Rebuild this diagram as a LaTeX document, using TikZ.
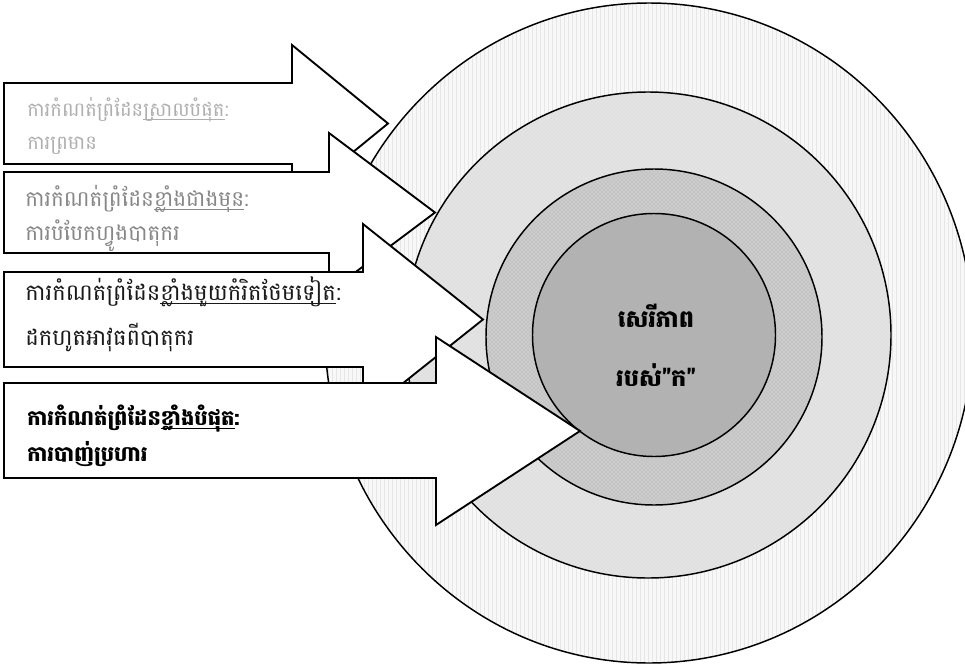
\documentclass[tikz,border=0pt]{standalone}
\usepackage{fontspec}
\usetikzlibrary{patterns}
\newfontfamily\khmer[Script=Khmer]{Battambang}
\newcommand{\kul}[1]{\setbox0=\hbox{#1}\rlap{\rule[-2.6pt]{\wd0}{0.5pt}}\box0}
\begin{document}
\begin{tikzpicture}[x=0.75pt,y=0.75pt,yscale=-1,xscale=1,
  ring/.style={draw=black,line width=1.1pt},
  blockarrow/.style={draw=black,fill=white,line width=1.4pt,line join=miter},
  lbl/.style={anchor=base west,inner sep=0pt,font=\khmer\fontsize{14.6}{17}\selectfont}]
\useasboundingbox (0,0) rectangle (965,664);

%Shape: Circle [outer ring]
\fill [fill={rgb, 255:red, 248; green, 248; blue, 248 }] (649,333) ellipse [x radius=324, y radius=330];
\fill [pattern=vertical lines, pattern color={rgb, 255:red, 230; green, 230; blue, 230 }] (649,333) ellipse [x radius=324, y radius=330];
\draw [ring] (649,333) ellipse [x radius=324, y radius=330];
%Shape: Circle [third ring]
\fill [fill={rgb, 255:red, 222; green, 222; blue, 222 }] (648,335) circle [radius=243];
\fill [pattern=crosshatch dots, pattern color=white] (648,335) circle [radius=243];
\draw [ring] (648,335) circle [radius=243];
%Shape: Circle [second ring]
\fill [fill={rgb, 255:red, 196; green, 196; blue, 196 }] (654,337) circle [radius=168];
\fill [pattern=crosshatch dots, pattern color={rgb, 255:red, 232; green, 232; blue, 232 }] (654,337) circle [radius=168];
\draw [ring] (654,337) circle [radius=168];
%Shape: Circle [core]
\draw [ring, fill={rgb, 255:red, 178; green, 178; blue, 178 }] (654,335) circle [radius=121.5];

%Shape: Right Arrow [warning]
\draw [blockarrow] (4,83) -- (292,83) -- (292,45) -- (388,123.5) -- (292,202) -- (292,164) -- (4,164) -- cycle ;
%Shape: Right Arrow [disperse]
\draw [blockarrow] (4,172) -- (329,172) -- (329,133) -- (435,212.5) -- (329,292) -- (329,253) -- (4,253) -- cycle ;
%Shape: Right Arrow [disarm]
\draw [blockarrow] (4,272) -- (363,272) -- (363,224) -- (483,319.5) -- (363,415) -- (363,367) -- (4,367) -- cycle ;
%Shape: Right Arrow [shooting]
\draw [blockarrow] (4,383) -- (436,383) -- (436,337) -- (580,431) -- (436,525) -- (436,478) -- (4,478) -- cycle ;

% Text Node
\draw (27,116) node (warnA) [lbl, text={rgb, 255:red, 175; green, 175; blue, 175 }] {ការកំណត់ព្រំដែន\kul{ស្រាលបំផុត}:};
% Text Node
\draw (27,149) node (warnB) [lbl, text={rgb, 255:red, 175; green, 175; blue, 175 }] {ការព្រមាន};
% Text Node
\draw (25,206) node (dispA) [lbl, text={rgb, 255:red, 135; green, 135; blue, 135 }, font=\khmer\fontsize{16.2}{18}\selectfont] {ការកំណត់ព្រំដែន\kul{ខ្លាំងជាងមុន}:};
% Text Node
\draw (25,240) node (dispB) [lbl, text={rgb, 255:red, 135; green, 135; blue, 135 }, font=\khmer\fontsize{16.2}{18}\selectfont] {ការបំបែកហ្វូងបាតុករ};
% Text Node
\draw (25,300) node (disA) [lbl, text={rgb, 255:red, 25; green, 25; blue, 25 }, font=\khmer\fontsize{17}{19}\selectfont] {ការកំណត់ព្រំដែន\kul{ខ្លាំងមួយកំរិតថែមទៀត}:};
% Text Node
\draw (25,345) node (disB) [lbl, text={rgb, 255:red, 25; green, 25; blue, 25 }, font=\khmer\fontsize{17}{19}\selectfont] {ដកហូតអាវុធពីបាតុករ};
% Text Node
\draw (27,425) node (shotA) [lbl, font=\khmer\bfseries\fontsize{15.8}{18}\selectfont] {ការកំណត់ព្រំដែន\kul{ខ្លាំងបំផុត}:};
% Text Node
\draw (27,461) node (shotB) [lbl, font=\khmer\bfseries\fontsize{15.8}{18}\selectfont] {ការបាញ់ប្រហារ};

% Text Node
\draw (656,327) node (freeA) [anchor=base, inner sep=0pt, font=\khmer\bfseries\fontsize{18}{21}\selectfont] {សេរីភាព};
% Text Node
\draw (656,386) node (freeB) [anchor=base, inner sep=0pt, font=\khmer\bfseries\fontsize{18}{21}\selectfont] {របស់"ក"};

\end{tikzpicture}
\end{document}
